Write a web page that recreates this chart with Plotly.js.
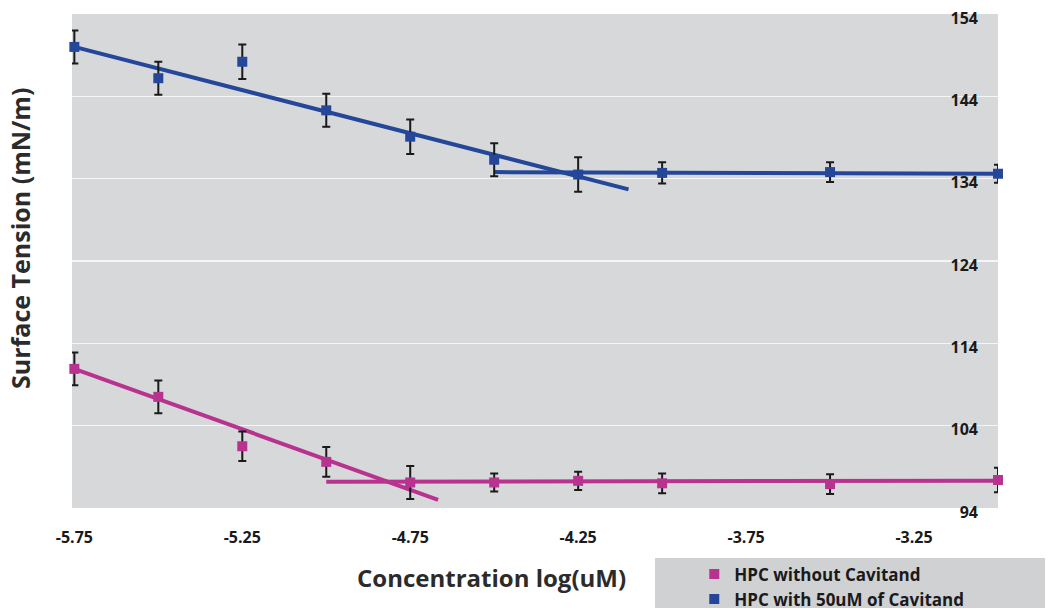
<!DOCTYPE html>
<html>
<head>
<meta charset="utf-8">
<script src="https://cdn.plot.ly/plotly-3.0.1.min.js"></script>
<style>
  html, body { margin: 0; padding: 0; background: #ffffff; }
  #chart { width: 1050px; height: 613px; }
</style>
</head>
<body>
<div id="chart"></div>
<script>
// ---- data ----
const concentration = [-5.75, -5.5, -5.25, -5.0, -4.75, -4.5, -4.25, -4.0, -3.5, -3.0];

const withoutName = "HPC without Cavitand";
const withoutY    = [110.9, 107.5, 101.5, 99.6, 97.1, 97.1, 97.3, 97.0, 96.9, 97.4];
const withoutErr  = [2.0, 2.0, 1.8, 1.8, 2.0, 1.1, 1.1, 1.2, 1.2, 1.5];

const withName = "HPC with 50uM of Cavitand";
const withY    = [150.0, 146.2, 148.2, 142.3, 139.1, 136.3, 134.5, 134.7, 134.8, 134.6];
const withErr  = [2.0, 2.0, 2.1, 2.0, 2.1, 2.0, 2.1, 1.3, 1.2, 1.1];

// fitted trend lines (end points)
const withoutFitX  = [-5.75, -4.667];
const withoutFitY  = [110.9, 95.0];
const withoutFlatX = [-5.0, -3.0];
const withoutFlatY = [97.2, 97.3];

const withFitX  = [-5.75, -4.1];
const withFitY  = [150.0, 132.7];
const withFlatX = [-4.5, -3.0];
const withFlatY = [134.8, 134.6];

const xTicks = [-5.75, -5.25, -4.75, -4.25, -3.75, -3.25];
const yTicks = [94, 104, 114, 124, 134, 144, 154];

const xTitle = "Concentration log(uM)";
const yTitle = "Surface Tension (mN/m)";

// ---- styles ----
const pink = "#b8338f";
const blue = "#24479a";
const lineW = 4;
const fam = "'Open Sans', Lato, sans-serif";

function fitLine(x, y, color) {
  return { x: x, y: y, type: "scatter", mode: "lines",
           line: { color: color, width: lineW }, showlegend: false,
           hoverinfo: "skip", cliponaxis: false };
}
function points(x, y, err, color, name) {
  return { x: x, y: y, type: "scatter", mode: "markers", name: name,
           marker: { symbol: "square", size: 10, color: color },
           error_y: { type: "data", array: err, visible: true,
                      color: "#1a1a1a", thickness: 2, width: 4 },
           cliponaxis: false };
}

const data = [
  fitLine(withoutFitX, withoutFitY, pink),
  fitLine(withoutFlatX, withoutFlatY, pink),
  fitLine(withFitX, withFitY, blue),
  fitLine(withFlatX, withFlatY, blue),
  points(concentration, withoutY, withoutErr, pink, withoutName),
  points(concentration, withY, withErr, blue, withName)
];

const tickFont = { family: fam, size: 16, color: "#1a1a1a", weight: 700 };

const layout = {
  width: 1050, height: 613,
  paper_bgcolor: "#ffffff",
  plot_bgcolor: "#d7d8da",
  margin: { l: 72, r: 52, t: 14, b: 105, autoexpand: false },
  showlegend: true,
  legend: {
    x: 0.672, y: -0.098, xanchor: "left", yanchor: "top",
    bgcolor: "rgba(0,0,0,0)", borderwidth: 0,
    font: { family: fam, size: 17, color: "#1a1a1a", weight: 700 },
    itemwidth: 30, tracegroupgap: 0
  },
  xaxis: {
    range: [-5.757, -3.0],
    tickmode: "array", tickvals: xTicks,
    ticktext: xTicks.map(v => v.toFixed(2)),
    showgrid: false, zeroline: false, showline: false,
    ticks: "", ticklabelstandoff: 18,
    tickfont: tickFont, automargin: false
  },
  yaxis: {
    range: [94, 154],
    side: "right",
    tickmode: "array", tickvals: yTicks,
    ticktext: yTicks.map(String),
    ticklabelposition: "inside",
    ticklabeloverflow: "allow",
    ticklabelstandoff: 17,
    ticklabelshift: 4,
    showgrid: true, gridcolor: "rgba(255,255,255,0.75)", gridwidth: 1.5,
    zeroline: false, showline: false, ticks: "",
    tickfont: tickFont, automargin: false
  },
  shapes: [
    { type: "rect", xref: "paper", yref: "paper",
      x0: 0.6296, x1: 1.0508, y0: -0.2024, y1: -0.1012,
      fillcolor: "#d0d1d3", line: { width: 0 }, layer: "below" }
  ],
  annotations: [
    { text: xTitle, xref: "paper", yref: "paper", x: 0.4525, y: -0.14,
      xanchor: "center", yanchor: "middle", showarrow: false,
      font: { family: fam, size: 24, color: "#2b2b2b", weight: 700 } },
    { text: yTitle, xref: "paper", yref: "paper", x: -0.056, y: 0.545,
      xanchor: "center", yanchor: "middle", showarrow: false, textangle: -90,
      font: { family: fam, size: 25, color: "#2b2b2b", weight: 700 } }
  ]
};

Plotly.newPlot("chart", data, layout, { displayModeBar: false, staticPlot: true });
</script>
</body>
</html>
